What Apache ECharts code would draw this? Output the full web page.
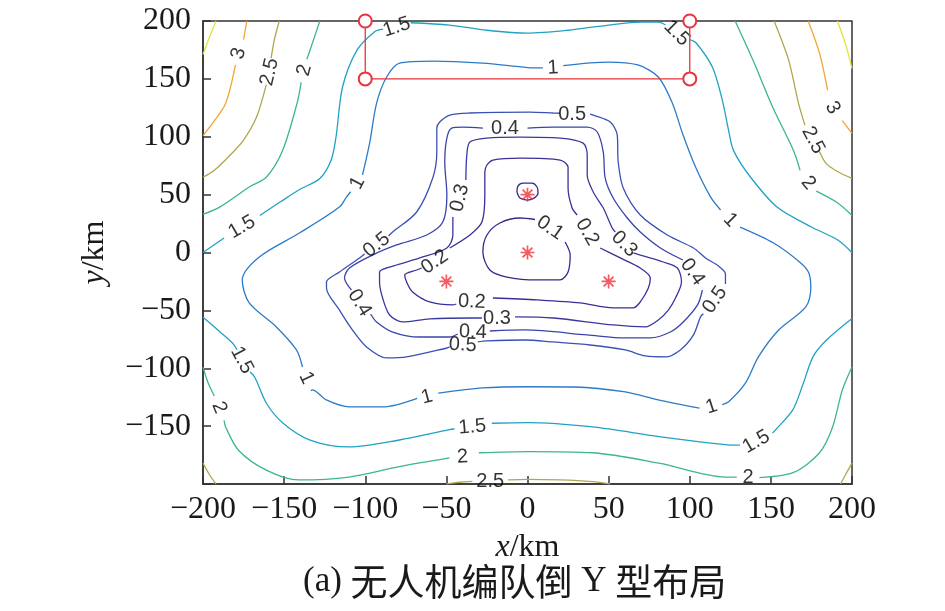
<!DOCTYPE html>
<html>
<head>
<meta charset="utf-8">
<script src="https://cdn.jsdelivr.net/npm/echarts@6/dist/echarts.min.js"></script>
<style>html,body{margin:0;padding:0;background:#fff;}#c{width:945px;height:611px;}</style>
</head>
<body>
<div id="c"></div>
<script>
// ---- axis ticks ----
const xTicks = [-200, -150, -100, -50, 0, 50, 100, 150, 200];
const yTicks = [-200, -150, -100, -50, 0, 50, 100, 150, 200];

// ---- contour levels ----
const levelValues = [0.1, 0.2, 0.3, 0.4, 0.5, 1, 1.5, 2, 2.5, 3, 3.5];

// contour polylines (data units, km), each level = list of segments (gaps at labels)
const lines01 = [
  [[23.2,9.1],[26.3,-2.2],[25,-16.8],[20.1,-23.7],[5.9,-23.7],[-12.7,-21.2],[-23.2,-15.1],[-27.5,0.4],[-25,15.1],[-17,25.5],[-4.6,29.8],[4.6,28.5]],
  [[-6.5,52.2],[-5.9,57.4],[-2.8,60],[2.8,60],[5.9,56.6],[6.5,51.4],[4,47],[-0.3,45.3],[-4.6,47],[-6.5,52.2]]
];
const lines02 = [
  [[-47.9,3.9],[-35.5,15.1],[-28.1,26.3],[-26.3,49.7],[-26.3,69.5],[-25,75.6],[-21.3,79.9],[-4.6,81.6],[20.1,79.9],[25,73.8],[25,55.7],[27.5,38.4],[30.6,32.4]],
  [[44.8,3.9],[57.2,-4.7],[69.5,-13.4],[75.7,-22],[74.5,-30.7],[69.5,-42.7],[65.2,-47.9],[52.8,-47.9],[32.4,-43.6],[5.9,-41],[-21.3,-39.3]],
  [[-43.9,-44.5],[-46,-45.3],[-60.3,-42.7],[-70.8,-34.1],[-74.5,-25.5],[-75.7,-19.4],[-68.3,-15.1],[-65.2,-13.4]]
];
const lines03 = [
  [[-38,62.6],[-37.4,84.2],[-35.5,95.4],[-25,98.9],[-4.6,99.7],[20.1,98.9],[34.3,94.5],[36.8,84.2],[36.8,66.9],[40.5,52.3],[46.7,38.4],[52.2,21.2],[54.1,17.7]],
  [[65.2,-0.4],[69.5,-2.2],[83.7,-8.2],[92.4,-13.4],[94.9,-25.5],[91.2,-39.3],[86.8,-49.7],[80.6,-58.3],[72.6,-64.3],[52.8,-62.6],[15.8,-56.6],[-7.7,-55.7]],
  [[-28.1,-56.6],[-33.7,-56.6],[-60.3,-57.4],[-76.9,-60],[-85,-54],[-89.3,-39.3],[-91.2,-25.5],[-91.2,-16.8],[-80.7,-10.8],[-66.4,-4.7],[-49.7,3.9],[-46,15.1],[-46,30.7]]
];
const lines04 = [
  [[0,107.5],[15.8,108.4],[36.8,108.4],[43,104.1],[46.7,86.8],[47.9,64.3],[52.8,47.1],[61.5,29.8],[69.5,17.7],[81.9,3.9],[95.8,-6.5]],
  [[107.8,-32.4],[104.8,-45.3],[96,-60],[88,-68.7],[75.7,-73.8],[60.3,-73.8],[36.8,-71.2],[-1.5,-66.9],[-23.2,-67.8]],
  [[-43,-70.4],[-47.9,-73],[-66.4,-73],[-83.1,-68.7],[-93,-60],[-96.7,-53.1]],
  [[-108.5,-32.4],[-112.8,-22],[-109.7,-13.4],[-95.5,-2.2],[-80.7,6.5],[-62.1,15.1],[-52.2,26.3],[-49.7,49.7],[-51,78.2],[-49.7,98.9],[-46.7,107.5],[-39.9,108.4],[-27.5,107.5]]
];
const lines05 = [
  [[38.6,119.6],[40.5,118.7],[51,112.7],[55.3,101.5],[55.9,78.2],[59,55.7],[69.5,32.4],[86.2,15.1],[102.3,3.9],[109.7,-4.7],[117.7,-11.7],[122,-18.6],[122,-27.2]],
  [[108.4,-53],[106.6,-55.7],[102.3,-71.2],[94.2,-84.2],[85,-90.2],[72.6,-89.4],[60.3,-84.2],[38.6,-79.9],[15.8,-77.3],[-1.5,-75.6],[-25,-76.4],[-30.6,-77.3]],
  [[-48,-81.6],[-49.7,-82.5],[-74.5,-90.2],[-86.8,-91.1],[-99.2,-81.6],[-107.9,-66.9],[-115.9,-49.7],[-123.9,-30.7],[-123.9,-25.5],[-115.9,-16.8],[-103.5,-4.7],[-100.4,-1.3]],
  [[-85.6,14.2],[-83.1,17.7],[-68.3,35],[-58.4,64.3],[-55.9,86.8],[-55.9,107.5],[-54.1,112.7],[-47.9,118.7],[-35.5,120.5],[1.5,121.3],[15.8,120.5],[20,120.3]]
];
const lines10 = [
  [[22,161.5],[49.7,164.5],[68,162],[80.6,151.6],[89.3,129],[95.5,103],[103.5,74],[112.8,48],[119,36.7]],
  [[131,22],[151.7,8.2],[168.4,-9],[173.4,-17.7],[174.6,-30],[171.5,-47],[154.8,-67],[142.4,-90],[134.4,-112.7],[124,-129],[120,-131.5]],
  [[106,-134.5],[80.6,-127.4],[60.3,-120.5],[29.4,-116.2],[0,-116],[-27.5,-117],[-55,-121.5]],
  [[-68,-126],[-89.3,-133.4],[-109.7,-133.4],[-124,-127.4],[-132.6,-118.7],[-133.5,-119.5]],
  [[-138.7,-99],[-142.4,-84.2],[-154.8,-64.3],[-171.5,-43.6],[-175.8,-23.7],[-165.3,-3.9],[-140.6,16.8],[-115.9,39.3],[-111.6,47.9],[-109,52.5]],
  [[-101.7,67],[-97.3,94.5],[-93,129.1],[-86.8,151.6],[-78.8,163.6],[-58.4,165.4],[-27.5,163.6],[0,159.8],[9.5,159.5]]
];
const lines15 = [
  [[-200,0],[-187,12.5]],
  [[-165,32],[-152,44],[-141,54],[-128,64],[-121,80],[-118,100],[-114,143],[-105,175],[-94,191],[-89,193]],
  [[-72,198.5],[-48,196.5],[-25,192],[0,189.5],[25,192],[50,196.5],[70,199],[81,199],[85,196.5]],
  [[100,184],[104,181],[114,160],[120,132],[124,105],[127,88],[137.5,65],[154,39],[175,22],[191,11],[200,0]],
  [[-200,-56],[-190,-68],[-182,-78],[-179,-84]],
  [[-171,-103],[-168,-108],[-161,-130],[-151,-147],[-134,-162],[-110,-168],[-79,-162],[-48,-153],[-45,-152.5]],
  [[-22,-147.5],[0,-147],[40,-150.7],[81,-159],[122,-166],[131,-166.5]],
  [[151,-156],[153,-153],[163.5,-136],[170,-113],[176,-90],[184,-76],[200,-57]]
];
const lines20 = [
  [[-128,200],[-134,175],[-136,167]],
  [[-139.5,147],[-142,129],[-151,88],[-161,65],[-171,57],[-190,39],[-200,33]],
  [[128,200],[139,166],[151,126],[164,88],[168,71]],
  [[178,53],[191,43],[200,32]],
  [[-200,-99],[-197,-112],[-193,-124]],
  [[-187,-145],[-186,-151],[-178,-171],[-161,-188],[-141,-196.5],[-110,-194],[-79,-185],[-48,-177.5]],
  [[-30,-173],[0,-172],[40,-173],[81,-182],[122,-194],[129,-194]],
  [[143,-194.5],[164,-190],[180,-173],[188,-151],[194,-119],[200,-99]]
];
const lines25 = [
  [[-153,200],[-156,184],[-158,168]],
  [[-161,145],[-167,117],[-175,97],[-182,86],[-193,71],[-200,65]],
  [[-200,-182],[-196,-192],[-192,-200]],
  [[152,200],[161,166],[167,129],[171,110]],
  [[180,87],[184,77],[191,70],[200,64]],
  [[200,-182],[196,-192],[193,-200]],
  [[-50,-200],[-42,-198.5],[-34,-197.8]],
  [[-12,-196.5],[0,-196],[20,-196.5],[40,-198],[51,-200]]
];
const lines30 = [
  [[-173,200],[-175,184]],
  [[-180,162],[-186,129],[-194,112],[-200,101]],
  [[173,200],[180,172],[185,140]],
  [[194,114],[200,103]]
];
const lines35 = [
  [[-192,200],[-196,186],[-200,171]],
  [[191,200],[196,180],[200,159]]
];

// contour labels: [x, y, text]
const contourLabels = [
  [13.9,21.2,'0.1'],
  [36.8,17.7,'0.2'],[-34.3,-42.7,'0.2'],[-57.2,-8.2,'0.2'],
  [59.6,7.3,'0.3'],[-18.8,-56.6,'0.3'],[-41.7,47.1,'0.3'],
  [-13.9,107.5,'0.4'],[101.7,-16.8,'0.4'],[-33.7,-68.7,'0.4'],[-103.5,-43.6,'0.4'],
  [27.5,119.6,'0.5'],[115.5,-41,'0.5'],[-39.9,-79.9,'0.5'],[-93,6.5,'0.5'],
  [15.8,159.5,'1'],[125,28,'1'],[113.5,-133.4,'1'],[-62,-124.8,'1'],[-136.3,-108.4,'1'],[-104.8,60,'1'],
  [-176,22,'1.5'],[-80.6,194.7,'1.5'],[92,189.5,'1.5'],[-176,-93,'1.5'],[-34,-150.7,'1.5'],[141,-163.6,'1.5'],
  [-137.5,157.6,'2'],[173,60,'2'],[-190,-134,'2'],[-40,-176.6,'2'],[136,-194,'2'],
  [-159,156,'2.5'],[176,97,'2.5'],[-23,-197.5,'2.5'],
  [-178,172,'3'],[188,125,'3']
];
const labelAngles = [
  -35,
  -60, -3, 35,
  -45, 0, 76,
  0, -55, -2, -58,
  0, 55, -3, 38,
  3, -45, 18, 15, -65, 62,
  30, 18, -45, -62, 5, 30,
  75, -50, -68, 3, 0,
  77, -62, 0,
  75, -60
];

// markers
const stationPts = [[0,50],[0,0],[-50,-25],[50,-25]];
const regionPts = [[-100,200],[-100,150],[100,150],[100,200]];

// caption
const captionLatin = '(a) ';
const captionCjk1 = '无人机编队倒';
const captionMid = ' Y ';
const captionCjk2 = '型布局';

// ---- styles ----
const levelColors = ['#352a8a','#383096','#3a389f','#3b44aa','#3a51b4','#2c7bc8','#20a2c4','#3db591','#b0a650','#f2a533','#e2e23c'];
const red = '#e8343c';
const starPath = 'path://M0 8.8L20 8.8L20 11.2L0 11.2ZM8.8 0L11.2 0L11.2 20L8.8 20ZM2.1 3.9L3.9 2.1L17.9 16.1L16.1 17.9ZM16.1 2.1L17.9 3.9L3.9 17.9L2.1 16.1Z';

const allLevels = [lines01, lines02, lines03, lines04, lines05, lines10, lines15, lines20, lines25, lines30, lines35];

const series = [];
allLevels.forEach((segs, i) => {
  segs.forEach(seg => {
    series.push({
      type: 'line', data: seg, smooth: 0.3, symbol: 'none', silent: true,
      lineStyle: { color: levelColors[i], width: 1.3 }, z: 2
    });
  });
});

series.push({
  type: 'scatter', silent: true, symbolSize: 0, z: 5,
  data: contourLabels.map((d, i) => ({ value: [d[0], d[1]], name: d[2], label: { rotate: labelAngles[i] } })),
  label: {
    show: true, position: 'inside', formatter: '{b}',
    fontFamily: 'Liberation Sans, Arial, sans-serif', fontSize: 20, color: '#000'
  }
});

series.push({
  type: 'line', data: regionPts, symbol: 'emptyCircle', symbolSize: 13, showSymbol: true, clip: false, silent: true, z: 6,
  lineStyle: { color: red, width: 1.3 },
  itemStyle: { color: red, borderColor: red, borderWidth: 1.2 }
});

series.push({
  type: 'scatter', data: stationPts, symbol: starPath, symbolSize: 14, silent: true, z: 6,
  itemStyle: { color: red }
});

const fmt = v => String(v).replace('-', '\u2212');
const tickFont = { fontFamily: 'Liberation Serif, Times New Roman, serif', fontSize: 32, color: '#1a1a1a' };
const cjkFont = { fontFamily: 'Noto Sans CJK SC, sans-serif', fontSize: 37, color: '#1a1a1a' };

const chart = echarts.init(document.getElementById('c'), null, { renderer: 'canvas' });
chart.setOption({
  animation: false,
  backgroundColor: '#fff',
  title: {
    text: '{l|' + captionLatin + '}{c|' + captionCjk1 + '}{l|' + captionMid + '}{c|' + captionCjk2 + '}',
    left: 298, top: 558,
    textStyle: {
      fontWeight: 'normal',
      rich: { l: { ...tickFont, fontSize: 35 }, c: cjkFont }
    }
  },
  grid: { left: 203, right: 93, top: 21, bottom: 127, show: true, borderColor: '#333', borderWidth: 1.5, backgroundColor: 'transparent' },
  xAxis: {
    type: 'value', min: xTicks[0], max: xTicks[xTicks.length - 1], interval: 50,
    name: '{i|x}/km', nameLocation: 'middle', nameGap: 48,
    nameTextStyle: { ...tickFont, rich: { i: { ...tickFont, fontStyle: 'italic' } } },
    axisLine: { show: true, onZero: false, lineStyle: { color: '#333', width: 1.5 } },
    axisTick: { show: true, inside: true, length: 8, lineStyle: { color: '#333', width: 1.5 } },
    axisLabel: { ...tickFont, margin: 10, formatter: fmt },
    splitLine: { show: false }
  },
  yAxis: {
    type: 'value', min: yTicks[0], max: yTicks[yTicks.length - 1], interval: 50,
    name: '{i|y}/km', nameLocation: 'middle', nameGap: 92, nameRotate: 90,
    nameTextStyle: { ...tickFont, rich: { i: { ...tickFont, fontStyle: 'italic' } } },
    axisLine: { show: true, onZero: false, lineStyle: { color: '#333', width: 1.5 } },
    axisTick: { show: true, inside: true, length: 8, lineStyle: { color: '#333', width: 1.5 } },
    axisLabel: { ...tickFont, margin: 12, formatter: v => (v === -200 ? '' : fmt(v)) },
    splitLine: { show: false }
  },
  series: series
});
</script>
</body>
</html>
